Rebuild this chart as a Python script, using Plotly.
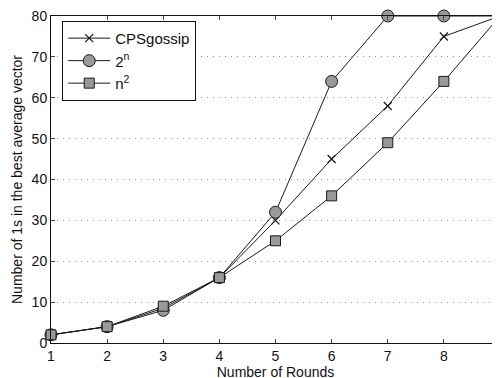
import plotly.graph_objects as go

rounds = [1, 2, 3, 4, 5, 6, 7, 8, 9]
cps_gossip = [2, 4, 8.5, 16, 30, 45, 58, 75, 80]
pow2 = [2, 4, 8, 16, 32, 64, 80, 80, 80]
square = [2, 4, 9, 16, 25, 36, 49, 64, 80]

y_ticks = [0, 10, 20, 30, 40, 50, 60, 70, 80]
x_ticks = [1, 2, 3, 4, 5, 6, 7, 8, 9]

line_col = "#1a1a1a"
fill_col = "#999999"

fig = go.Figure()
fig.add_trace(go.Scatter(
    x=rounds, y=cps_gossip, name="CPSgossip", mode="lines+markers",
    line=dict(color=line_col, width=1),
    marker=dict(symbol="x-thin", size=8, color=line_col, line=dict(color=line_col, width=1.3)),
    cliponaxis=False))
fig.add_trace(go.Scatter(
    x=rounds, y=pow2, name="2<sup>n</sup>", mode="lines+markers",
    line=dict(color=line_col, width=1),
    marker=dict(symbol="circle", size=12, color=fill_col, line=dict(color=line_col, width=1)),
    cliponaxis=False))
fig.add_trace(go.Scatter(
    x=rounds, y=square, name="n<sup>2</sup>", mode="lines+markers",
    line=dict(color=line_col, width=1),
    marker=dict(symbol="square", size=10, color=fill_col, line=dict(color=line_col, width=1)),
    cliponaxis=False))

fig.update_layout(
    width=500, height=378,
    margin=dict(l=43, r=8, t=8, b=43),
    paper_bgcolor="white", plot_bgcolor="white",
    font=dict(family="Liberation Sans, Arial, sans-serif", size=14, color="#111"),
    showlegend=True,
    legend=dict(x=0.025, y=0.985, xanchor="left", yanchor="top",
                bordercolor="#111", borderwidth=1, bgcolor="white",
                font=dict(size=15), tracegroupgap=0, itemwidth=42),
)
fig.update_xaxes(
    range=[1, 9], tickvals=x_ticks, ticks="inside", ticklen=4,
    showline=True, linecolor="#111", linewidth=1, mirror="ticks",
    showgrid=False, zeroline=False, automargin=False, ticklabeloverflow="allow",
    title=dict(text="Number of Rounds", font=dict(size=14), standoff=0),
)
fig.update_yaxes(
    range=[0, 80], tickvals=y_ticks, ticks="inside", ticklen=4,
    showline=True, linecolor="#111", linewidth=1, mirror="ticks",
    showgrid=True, gridcolor="#999", griddash="1px,5px", gridwidth=1,
    zeroline=False, automargin=False, ticklabeloverflow="allow",
    title=dict(text="Number of 1s in the best average vector", font=dict(size=14), standoff=5),
)

fig.write_html("out.html")
